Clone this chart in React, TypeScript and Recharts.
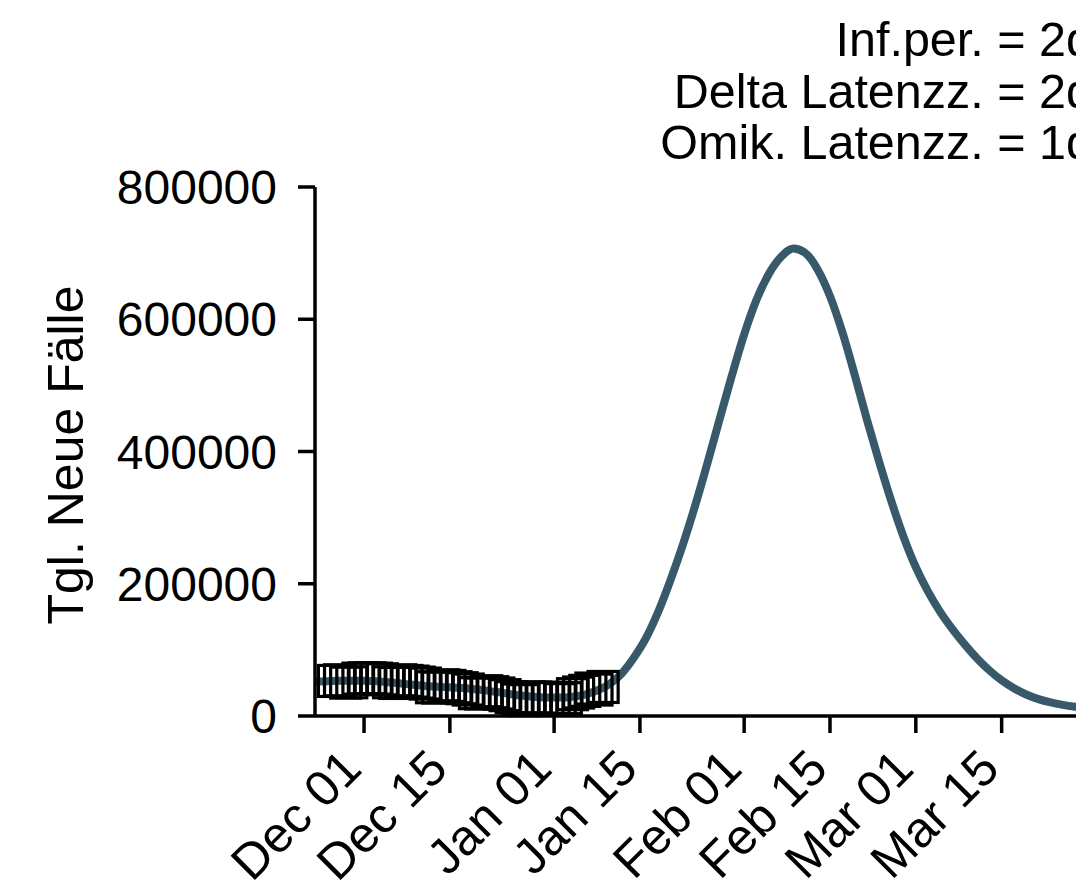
import { ComposedChart, Line, Scatter, XAxis, YAxis } from 'recharts';

// day 0 = Nov 23
const tickDays = [8, 22, 39, 53, 70, 84, 98, 112];
const tickLabels = ['Dec 01', 'Dec 15', 'Jan 01', 'Jan 15', 'Feb 01', 'Feb 15', 'Mar 01', 'Mar 15'];
const yTicks = [0, 200000, 400000, 600000, 800000];

// reported daily cases (square markers), Nov 26 .. Jan 09
const obsDays = [
  3, 4, 5, 6, 7, 8, 9, 10, 11, 12, 13, 14, 15, 16, 17, 18, 19, 20, 21, 22, 23, 24, 25,
  26, 27, 28, 29, 30, 31, 32, 33, 34, 35, 36, 37, 38, 39, 40, 41, 42, 43, 44, 45, 46, 47,
];
const obsCases = [
  53000, 54000, 50500, 51000, 56500, 57000, 57000, 56500, 55500, 51000, 50000, 54000, 53000,
  52000, 50500, 49000, 43500, 43000, 46500, 45500, 43500, 42000, 40000, 34500, 34000, 37500,
  36000, 34000, 31500, 28500, 25000, 24000, 28000, 28000, 27500, 27000, 27500, 25500, 27000,
  33000, 35500, 38000, 41500, 40000, 43900,
];

// model curve, every 2nd day
const modelDays = [
  0, 2, 4, 6, 8, 10, 12, 14, 16, 18, 20, 22, 24, 26, 28, 30, 32, 34, 36, 38, 40, 42, 44, 46,
  48, 50, 52, 54, 56, 58, 60, 62, 64, 66, 68, 70, 72, 74, 76, 78, 80, 82, 84, 86, 88, 90, 92,
  94, 96, 98, 100, 102, 104, 106, 108, 110, 112, 114, 116, 118, 120, 122, 124, 126, 128, 130,
];
const modelCases = [
  52000, 52600, 53200, 53400, 53200, 52400, 51000, 49200, 47200, 45400, 44200, 43300, 42200,
  40600, 38400, 35800, 33000, 30600, 28800, 27800, 27800, 29200, 32500, 38500, 48000, 64000,
  88000, 118000, 158000, 206000, 259000, 318000, 382000, 449000, 515000, 577000, 629000,
  668000, 694000, 707000, 700000, 675000, 635000, 581000, 517000, 449000, 385000, 325000,
  271000, 225000, 188000, 157000, 131000, 108000, 87000, 69000, 54000, 42000, 32500, 25500,
  20500, 16800, 14000, 11800, 10000, 8500,
];

const titleLines = ['Inf.per. = 2d', 'Delta Latenzz. = 2d', 'Omik. Latenzz. = 1d'];

const obsData = obsDays.map((day, i) => ({ day, cases: obsCases[i] }));
const modelData = modelDays.map((day, i) => ({ day, cases: modelCases[i] }));

const FONT = '"Liberation Sans", Arial, sans-serif';
const FS = 48;

const XTick = (props: any) => {
  const { x, y, payload } = props;
  const idx = tickDays.indexOf(payload.value);
  const ty = y + 38;
  return (
    <text
      x={x}
      y={ty}
      transform={`rotate(-45, ${x}, ${ty})`}
      textAnchor="end"
      fontFamily={FONT}
      fontSize={50}
      fill="#000"
    >
      {tickLabels[idx]}
    </text>
  );
};

const Square = (props: any) => {
  const { cx, cy } = props;
  return <rect x={cx - 15} y={cy - 15.5} width={30} height={31} fill="none" stroke="#000" strokeWidth={3.2} />;
};

export default function App() {
  return (
    <div style={{ position: 'absolute', left: 0, top: 0, width: 1076, height: 893, overflow: 'hidden', background: '#fff' }}>
      <ComposedChart width={1200} height={893} margin={{ top: 187, right: 88, bottom: 0, left: 0 }}>
        <XAxis
          dataKey="day"
          type="number"
          domain={[0, 130]}
          ticks={tickDays}
          tick={<XTick />}
          height={177}
          tickSize={17}
          tickMargin={0}
          axisLine={{ stroke: '#000', strokeWidth: 3.5 }}
          tickLine={{ stroke: '#000', strokeWidth: 3.5 }}
          allowDataOverflow
        />
        <YAxis
          type="number"
          domain={[0, 800000]}
          ticks={yTicks}
          width={315}
          tickSize={17}
          tickMargin={21}
          tick={{ fill: '#000', fontSize: FS, fontFamily: FONT }}
          axisLine={{ stroke: '#000', strokeWidth: 3.5 }}
          tickLine={{ stroke: '#000', strokeWidth: 3.5 }}
        />
        <Scatter data={obsData} dataKey="cases" shape={<Square />} isAnimationActive={false} />
        <Line
          data={modelData}
          dataKey="cases"
          type="monotone"
          stroke="#37596a"
          strokeWidth={8}
          dot={false}
          activeDot={false}
          isAnimationActive={false}
        />
        <text
          x={83}
          y={455}
          transform="rotate(-90, 83, 455)"
          textAnchor="middle"
          fontFamily={FONT}
          fontSize={50}
          fill="#000"
        >
          Tgl. Neue Fälle
        </text>
        {titleLines.map((t, i) => (
          <text key={t} x={1093} y={56 + i * 51.5} textAnchor="end" fontFamily={FONT} fontSize={48.5} fill="#000">
            {t}
          </text>
        ))}
      </ComposedChart>
    </div>
  );
}
